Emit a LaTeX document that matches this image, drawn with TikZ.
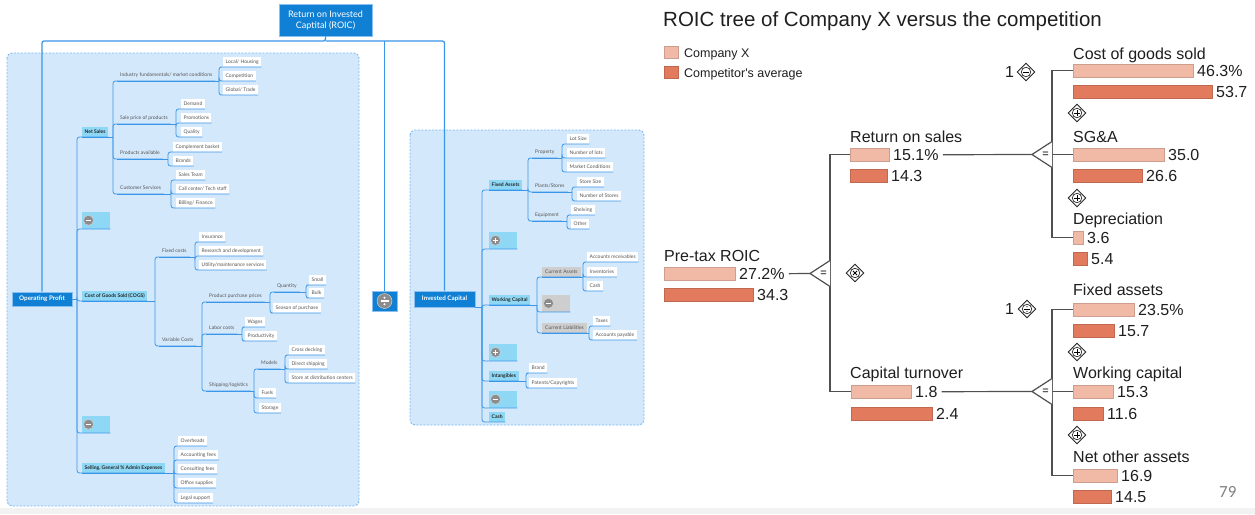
\documentclass[tikz,border=0pt]{standalone}
\usepackage{fontspec}
\usetikzlibrary{shapes.geometric}
\newfontfamily\lf{Lato}
\newfontfamily\rf{Liberation Sans}
\newfontfamily\pg{Carlito}
\definecolor{boxfill}{RGB}{212,232,252}
\definecolor{boxline}{RGB}{120,185,245}
\definecolor{conblue}{RGB}{58,150,232}
\definecolor{mainblue}{RGB}{16,128,212}
\definecolor{cyanbox}{RGB}{142,216,246}
\definecolor{greybox}{RGB}{206,206,206}
\definecolor{icongrey}{RGB}{140,140,140}
\definecolor{labtext}{RGB}{85,85,85}
\definecolor{barlight}{RGB}{241,186,166}
\definecolor{bardark}{RGB}{226,122,94}
\definecolor{treeline}{RGB}{80,80,80}
\tikzset{
 conn/.style={draw=conblue, line width=0.8pt, rounded corners=2.5pt},
 mainline/.style={draw=conblue, line width=1.3pt, rounded corners=2pt},
 container/.style={draw=boxline, fill=boxfill, dash pattern=on 2pt off 1.5pt, line width=0.9pt, rounded corners=5pt},
 leaf/.style={anchor=south west, fill=white, text=labtext, font=\lf\fontsize{5}{6}\selectfont, inner xsep=2.5pt, inner ysep=0pt, minimum height=9.5pt},
 lab/.style={anchor=south west, text=labtext, font=\lf\fontsize{5}{6}\selectfont, inner xsep=3pt, inner ysep=3pt, text height=3.6pt, text depth=1pt},
 sub/.style={anchor=south west, fill=cyanbox, text=black!85, font=\lf\bfseries\fontsize{5}{6}\selectfont, inner xsep=2.5pt, inner ysep=0pt, minimum height=9.5pt},
 gsub/.style={anchor=south west, fill=greybox, text=labtext, font=\lf\fontsize{5}{6}\selectfont, inner xsep=3pt, inner ysep=0pt, minimum height=10pt},
 iconbox/.style={anchor=south west, fill=cyanbox, minimum width=28pt, minimum height=17pt, inner sep=0pt},
 giconbox/.style={iconbox, fill=greybox},
 icon/.style={circle, fill=icongrey, draw=white!60!icongrey, line width=0.5pt, minimum size=10pt, inner sep=0pt},
 iminus/.style={icon, path picture={\draw[white,line width=1.2pt] ([xshift=-2.8pt]path picture bounding box.center) -- ([xshift=2.8pt]path picture bounding box.center);}},
 iplus/.style={icon, path picture={\draw[white,line width=1.2pt] ([xshift=-2.8pt]path picture bounding box.center) -- ([xshift=2.8pt]path picture bounding box.center) ([yshift=-2.8pt]path picture bounding box.center) -- ([yshift=2.8pt]path picture bounding box.center);}},
 idiv/.style={icon, minimum size=15pt, path picture={\draw[white,line width=1.3pt] ([xshift=-4pt]path picture bounding box.center) -- ([xshift=4pt]path picture bounding box.center); \fill[white] ([yshift=3.2pt]path picture bounding box.center) circle (1.1pt) ([yshift=-3.2pt]path picture bounding box.center) circle (1.1pt);}},
 mainnode/.style={fill=mainblue, draw=conblue!60!white, line width=0.6pt, text=white, inner sep=0pt},
 rt/.style={font=\rf\fontsize{16}{18}\selectfont, text=black!88, inner sep=0pt, anchor=base west},
 lbar/.style={fill=barlight, draw=barlight!85!black, line width=0.3pt, anchor=north west, inner sep=0pt, minimum height=13pt},
 dbar/.style={fill=bardark, draw=bardark!85!black, line width=0.3pt, anchor=north west, inner sep=0pt, minimum height=13pt},
 gl/.style={draw=treeline, line width=1.2pt},
 opd/.style={diamond, aspect=1, draw=black!85, line width=0.9pt, fill=white, minimum size=18pt, inner sep=0pt},
 opc/.style={circle, draw=black!85, line width=0.7pt, minimum size=9.5pt, inner sep=0pt},
 sgn/.style={line width=0.9pt}
}
\newcommand\fan[3]{%
 \coordinate (bus#1) at (#2,0);
 \draw[conn] (#1.south west) -- (bus#1 |- #1.south);
 \foreach \c in {#3}{\draw[conn] (bus#1 |- #1.south) |- (\c.south west) -- (\c.south east);}
}
\newcommand\chev[2]{%
 \coordinate (#1) at (#2);
 \draw[gl, fill=white] (#1) ++(20,-13) -- (#1) -- ++(20,13);
 \node[font=\rf\fontsize{11}{11}\selectfont, inner sep=0pt] at ([xshift=13.5pt]#1) {=};
}
\newcommand\plusop[2]{%
 \node[opd] (#1) at (#2) {};
 \node[opc] at (#1) {};
 \draw[sgn] ([xshift=-2.8pt]#1.center) -- ([xshift=2.8pt]#1.center) ([yshift=-2.8pt]#1.center) -- ([yshift=2.8pt]#1.center);
}
\begin{document}
\begin{tikzpicture}[x=1pt,y=-1pt]
\useasboundingbox (0,0) rectangle (1255,514);
\fill[white] (0,0) rectangle (1255,514);
\fill[gray!10] (0,508) rectangle (1255,514);
% containers
\path[container] (7,53) rectangle (359,506);
\path[container] (410,130) rectangle (644,425);
% main nodes
\node[mainnode, minimum width=93pt, minimum height=32pt, align=center, font=\lf\fontsize{9}{11}\selectfont] (roic) at (325.5,20) {Return on Invested\\Captital (ROIC)};
\node[mainnode, minimum width=60pt, minimum height=14pt, font=\lf\bfseries\fontsize{6.3}{7}\selectfont] (op) at (42,299) {Operating Profit};
\node[mainnode, minimum width=61pt, minimum height=16pt, font=\lf\bfseries\fontsize{6.3}{7}\selectfont] (ic) at (444.5,299) {Invested Capital};
\node[mainnode, minimum width=25pt, minimum height=20pt] (dv) at (384.5,301) {};
\node[idiv] (dvi) at (dv) {};
\coordinate (hub) at (0,41);
\draw[mainline] (roic.south) -- (roic.south |- hub) -| (op.north);
\draw[mainline] (roic.south |- hub) -| (ic.north);
\draw[mainline] (dv.north |- hub) -- (dv.north);
% left level 1
\node[sub] (ns) at (82,137) {Net Sales};
\node[iconbox] (m1) at (82,229) {};
\node[sub] (cogs) at (82,301) {Cost of Goods Sold (COGS)};
\node[iconbox] (m2) at (82,433) {};
\node[sub] (sga) at (82,473) {Selling, General \% Admin Expenses};
\node[iminus] at ([xshift=6.5pt]m1.west) {};
\node[iminus] at ([xshift=6.5pt]m2.west) {};
% left labels
\node[lab] (if) at (117,81) {Industry fundamentals/ market conditions};
\node[lab] (sp) at (117,124) {Sale price of products};
\node[lab] (pa) at (117,159) {Products available};
\node[lab] (cs) at (117,194) {Customer Services};
\node[lab] (fc) at (159,257) {Fixed costs};
\node[lab] (vc) at (159,346) {Variable Costs};
\node[lab] (ppp) at (206,302) {Product purchase prices};
\node[lab] (lc) at (206,334) {Labor costs};
\node[lab] (sl) at (206,391) {Shipping/logistics};
\node[lab] (q) at (274,292) {Quantity};
\node[lab] (mo) at (258,369) {Models};
% left leaves
\node[leaf] (lh) at (223,67) {Local/ Housing};
\node[leaf] (comp) at (223,81) {Competition};
\node[leaf] (gt) at (223,95) {Global/ Trade};
\node[leaf] (dem) at (181,109) {Demand};
\node[leaf] (pro) at (181,123) {Promotions};
\node[leaf] (qua) at (181,137) {Quality};
\node[leaf] (cb) at (173,152) {Complement basket};
\node[leaf] (br) at (173,166) {Brands};
\node[leaf] (st) at (176,180) {Sales Team};
\node[leaf] (cc) at (176,194) {Call center/ Tech staff};
\node[leaf] (bf) at (176,208) {Billing/ Finance};
\node[leaf] (ins) at (199,242) {Insurance};
\node[leaf] (rd) at (199,256) {Research and development};
\node[leaf] (um) at (199,270) {Utility/maintenance services};
\node[leaf] (sm) at (309,285) {Small};
\node[leaf] (bu) at (309,298) {Bulk};
\node[leaf] (sop) at (273,313) {Season of purchase};
\node[leaf] (wa) at (245,327) {Wages};
\node[leaf] (prd) at (245,341) {Productivity};
\node[leaf] (cd) at (289,355) {Cross decking};
\node[leaf] (ds) at (289,369) {Direct shipping};
\node[leaf] (sdc) at (289,383) {Store at distribution centers};
\node[leaf] (fu) at (259,398) {Fuels};
\node[leaf] (sto) at (259,413) {Storage};
\node[leaf] (ovh) at (178,446) {Overheads};
\node[leaf] (acc) at (178,460) {Accounting fees};
\node[leaf] (con) at (178,474) {Consulting fees};
\node[leaf] (off) at (178,488) {Office supplies};
\node[leaf] (leg) at (178,503) {Legal support};
% right level 1
\node[sub] (fa) at (489,190) {Fixed Assets};
\node[iconbox] (p1) at (489,249) {};
\node[sub] (wc) at (489,305) {Working Capital};
\node[iconbox] (p2) at (489,361) {};
\node[sub] (intg) at (489,381) {Intangibles};
\node[iconbox] (m3) at (489,408) {};
\node[sub] (cash) at (489,422) {Cash};
\node[iplus] at ([xshift=6.5pt]p1.west) {};
\node[iplus] at ([xshift=6.5pt]p2.west) {};
\node[iminus] at ([xshift=6.5pt]m3.west) {};
\node[gsub] (ca) at (542,277) {Current Assets};
\node[giconbox] (m4) at (542,312) {};
\node[iminus] at ([xshift=6.5pt]m4.west) {};
\node[gsub] (cl) at (542,333) {Current Liabilities};
\node[lab] (prop) at (532,158) {Property};
\node[lab] (ps) at (532,192) {Plants/Stores};
\node[lab] (eq) at (532,221) {Equipment};
\node[leaf] (ls) at (567,144) {Lot Size};
\node[leaf] (nl) at (567,158) {Number of lots};
\node[leaf] (mc) at (567,172) {Market Conditions};
\node[leaf] (ss) at (577,187) {Store Size};
\node[leaf] (nst) at (577,201) {Number of Stores};
\node[leaf] (shv) at (571,215) {Shelving};
\node[leaf] (oth) at (571,229) {Other};
\node[leaf] (ar) at (587,262) {Accounts receivables};
\node[leaf] (inv) at (587,277) {Inventories};
\node[leaf] (csh) at (587,291) {Cash};
\node[leaf] (tax) at (593,326) {Taxes};
\node[leaf] (ap) at (593,340) {Accounts payable};
\node[leaf] (brd) at (529,373) {Brand};
\node[leaf] (pat) at (529,388) {Patents/Copyrights};
% connectors left
\coordinate (bOP) at (77,0);
\draw[conn] (op.east) -- (bOP |- op.east);
\foreach \c in {ns,m1,cogs,m2,sga} {\draw[conn] (bOP |- op.east) |- (\c.south west) -- (\c.south east);}
\fan{ns}{113}{if,sp,pa,cs}
\fan{if}{219}{lh,comp,gt}
\fan{sp}{176}{dem,pro,qua}
\fan{pa}{168}{cb,br}
\fan{cs}{171}{st,cc,bf}
\fan{cogs}{155}{fc,vc}
\fan{fc}{195}{ins,rd,um}
\fan{vc}{202}{ppp,lc,sl}
\fan{ppp}{270}{q,sop}
\fan{q}{306}{sm,bu}
\fan{lc}{242}{wa,prd}
\fan{sl}{254}{mo,fu,sto}
\fan{mo}{285}{cd,ds,sdc}
\fan{sga}{174}{ovh,acc,con,off,leg}
% connectors right
\coordinate (bIC) at (482,0);
\draw[conn] (ic.south east) -- (bIC |- ic.south);
\foreach \c in {fa,p1,wc,p2,intg,m3,cash} {\draw[conn] (bIC |- ic.south) |- (\c.south west) -- (\c.south east);}
\fan{fa}{528}{prop,ps,eq}
\fan{prop}{562}{ls,nl,mc}
\fan{ps}{572}{ss,nst}
\fan{eq}{567}{shv,oth}
\fan{wc}{537}{ca,m4,cl}
\fan{ca}{583}{ar,inv,csh}
\fan{cl}{589}{tax,ap}
\fan{intg}{526}{brd,pat}
% ================= right panel
\node[rt, font=\rf\fontsize{20.5}{24}\selectfont] (title) at (663,27) {ROIC tree of Company X versus the competition};
\node[lbar, minimum width=14pt, minimum height=12pt] (lg1) at (664,46) {};
\node[dbar, minimum width=14pt, minimum height=12pt] (lg2) at (664,66) {};
\node[rt, font=\rf\fontsize{12.5}{14}\selectfont] (lg1t) at (684,57) {Company X};
\node[rt, font=\rf\fontsize{12.5}{14}\selectfont] (lg2t) at (684,77) {Competitor's average};
% labels
\node[rt] (cogsT) at (1073,59) {Cost of goods sold};
\node[rt] (sgaT) at (1073,142) {SG\&A};
\node[rt] (depT) at (1073,224) {Depreciation};
\node[rt] (rosT) at (850,142) {Return on sales};
\node[rt] (roicT) at (664,261) {Pre-tax ROIC};
\node[rt] (ctT) at (850,378) {Capital turnover};
\node[rt] (faT) at (1073,295) {Fixed assets};
\node[rt] (wcT) at (1073,378) {Working capital};
\node[rt] (noaT) at (1073,462) {Net other assets};
% bars
\node[lbar, minimum width=120pt] (cogsL) at (1073,64) {};
\node[dbar, minimum width=139pt] (cogsD) at (1073,85) {};
\node[lbar, minimum width=91pt] (sgaL) at (1073,148) {};
\node[dbar, minimum width=69pt] (sgaD) at (1073,169) {};
\node[lbar, minimum width=10pt] (depL) at (1073,231) {};
\node[dbar, minimum width=14pt] (depD) at (1073,252) {};
\node[lbar, minimum width=39pt] (rosL) at (850,148) {};
\node[dbar, minimum width=37pt] (rosD) at (850,169) {};
\node[lbar, minimum width=71pt] (roicL) at (664,267) {};
\node[dbar, minimum width=89pt] (roicD) at (664,288) {};
\node[lbar, minimum width=60pt] (ctL) at (851,385) {};
\node[dbar, minimum width=81pt] (ctD) at (851,407) {};
\node[lbar, minimum width=61pt] (faL) at (1073,303) {};
\node[dbar, minimum width=41pt] (faD) at (1073,324) {};
\node[lbar, minimum width=40pt] (wcL) at (1073,385) {};
\node[dbar, minimum width=30pt] (wcD) at (1073,407) {};
\node[lbar, minimum width=44pt] (noaL) at (1073,469) {};
\node[dbar, minimum width=38pt] (noaD) at (1073,490) {};
% values
\node[rt] (cogsLv) at (1197,76.2) {46.3\%};
\node[rt] (cogsDv) at (1216,97.2) {53.7};
\node[rt] (sgaLv) at (1168,160.2) {35.0};
\node[rt] (sgaDv) at (1146,181.2) {26.6};
\node[rt] (depLv) at (1087,243.2) {3.6};
\node[rt] (depDv) at (1091,264.2) {5.4};
\node[rt] (rosLv) at (893,160.2) {15.1\%};
\node[rt] (rosDv) at (891,181.2) {14.3};
\node[rt] (roicLv) at (739,279.2) {27.2\%};
\node[rt] (roicDv) at (757,300.2) {34.3};
\node[rt] (ctLv) at (915,397.2) {1.8};
\node[rt] (ctDv) at (936,419.2) {2.4};
\node[rt] (faLv) at (1138,315.2) {23.5\%};
\node[rt] (faDv) at (1118,336.2) {15.7};
\node[rt] (wcLv) at (1117,397.2) {15.3};
\node[rt] (wcDv) at (1107,419.2) {11.6};
\node[rt] (noaLv) at (1121,481.2) {16.9};
\node[rt] (noaDv) at (1115,502.2) {14.5};
% buses and chevrons
\coordinate (bus1) at (830,0);
\coordinate (bus2) at (1052,0);
\draw[gl] (rosL.west) -- (bus1 |- rosL.west) -- (bus1 |- ctL.west) -- (ctL.west);
\draw[gl] (cogsL.west) -- (bus2 |- cogsL.west) -- (bus2 |- depL.west) -- (depL.west);
\draw[gl] (bus2 |- sgaL.west) -- (sgaL.west);
\draw[gl] (faL.west) -- (bus2 |- faL.west) -- (bus2 |- noaL.west) -- (noaL.west);
\draw[gl] (bus2 |- wcL.west) -- (wcL.west);
\chev{c1}{810,273.5}
\chev{c2}{1032,154.5}
\chev{c3}{1032,391.5}
\draw[gl] ([xshift=4pt]roicLv.east) -- (c1);
\draw[gl] ([xshift=4pt]rosLv.east) -- (c2);
\draw[gl] ([xshift=4pt]ctLv.east) -- (c3);
% operator diamonds
\node[opd] (dmin) at (1026,72) {};
\node[opc] at (dmin) {};
\draw[sgn] ([xshift=-2.8pt]dmin.center) -- ([xshift=2.8pt]dmin.center);
\node[rt] (one1) at (1005,77.7) {1};
\plusop{dpl1}{1077,113}
\plusop{dpl2}{1077,198}
\node[opd] (dmul) at (855,273) {};
\node[opc] at (dmul) {};
\draw[sgn] ([xshift=-2pt,yshift=-2pt]dmul.center) -- ([xshift=2pt,yshift=2pt]dmul.center) ([xshift=-2pt,yshift=2pt]dmul.center) -- ([xshift=2pt,yshift=-2pt]dmul.center);
\node[opd] (ddiv) at (1027,309) {};
\node[opc] at (ddiv) {};
\draw[sgn] ([xshift=-2.8pt]ddiv.center) -- ([xshift=2.8pt]ddiv.center);
\fill ([yshift=2.2pt]ddiv.center) circle (0.65pt) ([yshift=-2.2pt]ddiv.center) circle (0.65pt);
\node[rt] (one2) at (1005,314.7) {1};
\plusop{dpl3}{1077,352}
\plusop{dpl4}{1077,435}
\node[font=\pg\fontsize{17}{17}\selectfont, text=gray, anchor=base west, inner sep=0pt] (pgn) at (1219,497) {79};
\end{tikzpicture}
\end{document}
